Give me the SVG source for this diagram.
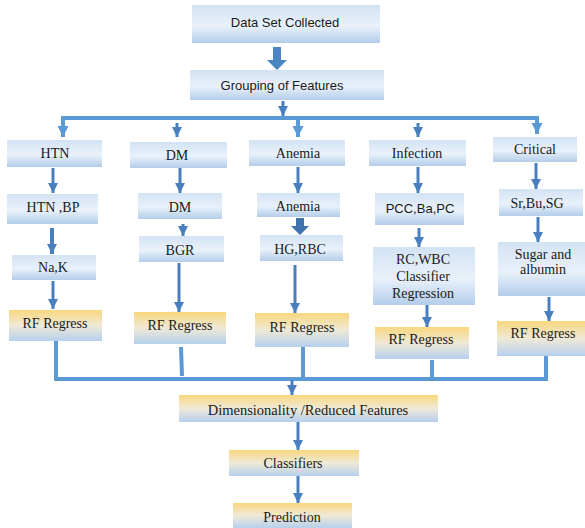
<svg xmlns="http://www.w3.org/2000/svg" width="585" height="528" viewBox="0 0 585 528">
<defs>
<linearGradient id="gb" x1="0" y1="0" x2="0" y2="1">
<stop offset="0" stop-color="#d3e3f4"/>
<stop offset="0.55" stop-color="#e9f1fa"/>
<stop offset="1" stop-color="#b3cdea"/>
</linearGradient>
<linearGradient id="gy" x1="0" y1="0" x2="0" y2="1">
<stop offset="0" stop-color="#f9d77e"/>
<stop offset="0.5" stop-color="#efe9d6"/>
<stop offset="1" stop-color="#b6d0ee"/>
</linearGradient>
<marker id="ah" viewBox="0 0 10 10" refX="10" refY="5" markerWidth="10" markerHeight="10" markerUnits="userSpaceOnUse" orient="auto">
<path d="M0,0 L10,5 L0,10 z" fill="#4a7fbf"/>
</marker>
<marker id="ahb" viewBox="0 0 10 10" refX="10" refY="5" markerWidth="11" markerHeight="13" markerUnits="userSpaceOnUse" orient="auto">
<path d="M0,0 L10,5 L0,10 z" fill="#5b9bd5"/>
</marker>
</defs>
<style>
.b{fill:url(#gb)}
.y{fill:url(#gy)}
.s{font-family:"Liberation Sans",Arial,sans-serif;font-size:13px;fill:#1a1a1a;text-anchor:middle}
.t{font-family:"Liberation Serif","Times New Roman",serif;font-size:14px;fill:#1a1a1a;text-anchor:middle}
.a{stroke:#4a7fbf;stroke-width:3;fill:none;marker-end:url(#ah)}
.c{stroke:#5b9bd5;stroke-width:4;fill:none}
</style>
<g id="connectors">
<polygon points="273,47 281,47 281,60 287,60 277,70 267,60 273,60" fill="#4a86c5"/>
<line class="a" x1="283" y1="101" x2="283" y2="116"/>
<polyline class="c" points="63,128 63,118 537,118 537,128"/>
<line class="c" x1="63" y1="118" x2="63" y2="137" style="marker-end:url(#ahb);stroke-width:4"/>
<line class="a" x1="177" y1="123" x2="177" y2="137"/>
<line class="c" x1="298" y1="118" x2="298" y2="137" style="marker-end:url(#ahb)"/>
<line class="a" x1="418" y1="123" x2="418" y2="137"/>
<line class="c" x1="537" y1="118" x2="537" y2="134" style="marker-end:url(#ahb)"/>
<line class="a" x1="53" y1="168" x2="53" y2="193"/>
<line class="a" x1="180" y1="168" x2="180" y2="193"/>
<line class="a" x1="298" y1="167" x2="298" y2="193"/>
<line class="a" x1="418" y1="167" x2="418" y2="193"/>
<line class="a" x1="536" y1="163" x2="536" y2="189"/>
<line class="a" x1="52" y1="228" x2="52" y2="254" style="stroke-width:4"/>
<line class="a" x1="183" y1="224" x2="183" y2="236"/>
<polygon points="296,218 304,218 304,226 309,226 300,235 291,226 296,226" fill="#3f73ad"/>
<line class="a" x1="419" y1="228" x2="419" y2="247"/>
<line class="a" x1="538" y1="217" x2="538" y2="242"/>
<line class="a" x1="53" y1="281" x2="53" y2="309"/>
<line class="a" x1="179" y1="263" x2="179" y2="312"/>
<line class="a" x1="295" y1="265" x2="295" y2="313"/>
<line class="a" x1="427" y1="305" x2="427" y2="327"/>
<line class="a" x1="549" y1="297" x2="549" y2="321"/>
<polyline class="c" points="56,341 56,379 546,379 546,352"/>
<line class="c" x1="181" y1="347" x2="182" y2="376"/>
<line class="c" x1="303" y1="347" x2="303" y2="379"/>
<line class="c" x1="432" y1="360" x2="432" y2="379"/>
<line class="a" x1="292" y1="380" x2="292" y2="395"/>
<line class="a" x1="298" y1="422" x2="298" y2="450"/>
<line class="a" x1="298" y1="476" x2="298" y2="503"/>
</g>
<g id="n-data"><rect class="b" x="192" y="5" width="188" height="38"/><text class="s" x="285" y="27">Data Set Collected</text></g>
<g id="n-group"><rect class="b" x="190" y="70" width="194" height="30"/><text class="s" x="282" y="90">Grouping of Features</text></g>
<g id="n-htn"><rect class="b" x="7" y="140" width="95" height="27"/><text class="t" x="55" y="158">HTN</text></g>
<g id="n-dm"><rect class="b" x="130" y="142" width="97" height="26"/><text class="t" x="177" y="160">DM</text></g>
<g id="n-anemia"><rect class="b" x="249" y="140" width="96" height="26"/><text class="t" x="298" y="158">Anemia</text></g>
<g id="n-infection"><rect class="b" x="369" y="140" width="97" height="26"/><text class="t" x="417" y="158">Infection</text></g>
<g id="n-critical"><rect class="b" x="493" y="137" width="84" height="25"/><text class="t" x="535" y="154">Critical</text></g>
<g id="n-htnbp"><rect class="b" x="7" y="194" width="91" height="30"/><text class="t" x="53" y="212">HTN ,BP</text></g>
<g id="n-dm2"><rect class="b" x="138" y="193" width="84" height="26"/><text class="t" x="180" y="212">DM</text></g>
<g id="n-anemia2"><rect class="b" x="257" y="193" width="83" height="24"/><text class="t" x="298" y="211">Anemia</text></g>
<g id="n-pcc"><rect class="b" x="375" y="193" width="89" height="32"/><text class="s" x="420" y="213">PCC,Ba,PC</text></g>
<g id="n-sr"><rect class="b" x="499" y="189" width="84" height="27"/><text class="t" x="537" y="208">Sr,Bu,SG</text></g>
<g id="n-nak"><rect class="b" x="12" y="255" width="84" height="25"/><text class="t" x="53" y="272">Na,K</text></g>
<g id="n-bgr"><rect class="b" x="139" y="236" width="85" height="26"/><text class="t" x="180" y="255">BGR</text></g>
<g id="n-hg"><rect class="b" x="260" y="235" width="83" height="26"/><text class="t" x="300" y="254">HG,RBC</text></g>
<g id="n-rc"><rect class="b" x="373" y="247" width="102" height="58"/><text class="t" x="423" y="264">RC,WBC</text><text class="t" x="423" y="281">Classifier</text><text class="t" x="423" y="298">Regression</text></g>
<g id="n-sugar"><rect class="b" x="498" y="242" width="87" height="54"/><text class="t" x="543" y="259">Sugar and</text><text class="t" x="543" y="274">albumin</text></g>
<g id="n-rf1"><rect class="y" x="9" y="310" width="93" height="31"/><text class="t" x="55" y="328">RF Regress</text></g>
<g id="n-rf2"><rect class="y" x="134" y="312" width="92" height="32"/><text class="t" x="180" y="330">RF Regress</text></g>
<g id="n-rf3"><rect class="y" x="255" y="313" width="94" height="34"/><text class="t" x="302" y="332">RF Regress</text></g>
<g id="n-rf4"><rect class="y" x="375" y="327" width="94" height="32"/><text class="t" x="421" y="344">RF Regress</text></g>
<g id="n-rf5"><rect class="y" x="497" y="321" width="88" height="35"/><text class="t" x="543" y="338">RF Regress</text></g>
<g id="n-dim"><rect class="y" x="179" y="395" width="259" height="27"/><text class="t" x="308" y="415" style="font-size:14.5px">Dimensionality /Reduced Features</text></g>
<g id="n-class"><rect class="y" x="229" y="450" width="130" height="26"/><text class="t" x="293" y="468">Classifiers</text></g>
<g id="n-pred"><rect class="y" x="233" y="503" width="119" height="25"/><text class="t" x="292" y="522">Prediction</text></g>
</svg>
